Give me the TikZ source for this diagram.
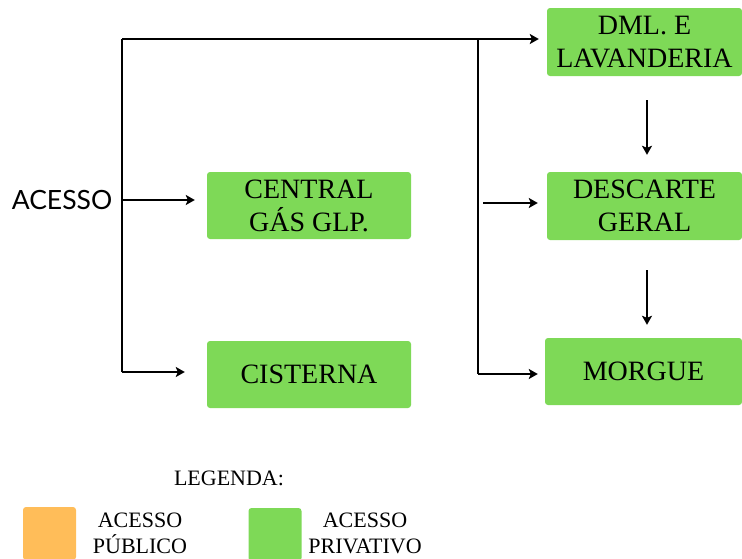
\documentclass[tikz,border=0pt]{standalone}
\usepackage{fontspec}
\setmainfont{Liberation Serif}
\newfontfamily\labelfont{Lato}
\usetikzlibrary{arrows.meta}
\definecolor{privgreen}{HTML}{7ED957}
\definecolor{puborange}{HTML}{FFBD59}
\begin{document}
\begin{tikzpicture}[x=1pt,y=-1pt,
  box/.style={fill=privgreen, rounded corners=3pt, inner sep=0pt, align=center,
              font=\fontsize{28}{33}\selectfont},
  swatch/.style={rounded corners=3pt, inner sep=0pt, minimum size=53pt},
  legtext/.style={align=center, font=\fontsize{22}{26}\selectfont},
  wire/.style={line width=2.8pt},
  flow/.style={line width=2.8pt, -{Stealth[length=9pt,width=10pt,inset=2pt]}}]
\useasboundingbox (0,0) rectangle (742,558);

% rooms
\node[box, minimum width=204pt, minimum height=67pt] (central) at (309,205.5) {CENTRAL\\GÁS GLP.};
\node[box, minimum width=204pt, minimum height=67pt] (cisterna) at (309,374.5) {CISTERNA};
\node[box, minimum width=195pt, minimum height=68pt] (dml) at (644.5,42) {DML. E\\LAVANDERIA};
\node[box, minimum width=195pt, minimum height=68pt] (descarte) at (644.5,206) {DESCARTE\\GERAL};
\node[box, minimum width=197pt, minimum height=67pt] (morgue) at (643.5,371.5) {MORGUE};

% entrance label
\node[font=\labelfont\fontsize{26.5}{30}\selectfont] (acesso) at (62,200) {ACESSO};

% junction points of the access lines
\coordinate (trunkTop) at (122,39);
\coordinate (trunkMid) at (122,200);
\coordinate (trunkBot) at (122,372);
\coordinate (branchTop) at (478,39);
\coordinate (branchBot) at (478,374);
\coordinate (branchMid) at (483,203);

% main access trunk
\draw[wire] (trunkBot) -- (trunkTop);
\draw[flow, shorten >=8pt] (trunkTop) -- (trunkTop -| dml.west);
\draw[flow, shorten >=12pt] (trunkMid) -- (trunkMid -| central.west);
\draw[flow, shorten >=22pt] (trunkBot) -- (trunkBot -| cisterna.west);

% secondary branch to the service rooms
\draw[wire] (branchTop) -- (branchBot);
\draw[flow, shorten >=7pt] (branchBot) -- (branchBot -| morgue.west);
\draw[flow, shorten >=9pt] (branchMid) -- (branchMid -| descarte.west);

% sequence between service rooms
\draw[flow, shorten <=24pt, shorten >=17pt] ([xshift=2.5pt]dml.south) -- ([xshift=2.5pt]dml.south |- descarte.north);
\draw[flow, shorten <=30pt, shorten >=13pt] ([xshift=2.5pt]descarte.south) -- ([xshift=2.5pt]descarte.south |- morgue.north);

% legend
\node[font=\fontsize{22}{26}\selectfont] (legtitle) at (229,478) {LEGENDA:};
\node[swatch, fill=puborange] (pubsq) at (49.5,533.5) {};
\node[legtext] (publabel) at (140,533) {ACESSO\\PÚBLICO};
\node[swatch, fill=privgreen] (privsq) at (275,534.5) {};
\node[legtext] (privlabel) at (365,533) {ACESSO\\PRIVATIVO};
\end{tikzpicture}
\end{document}
